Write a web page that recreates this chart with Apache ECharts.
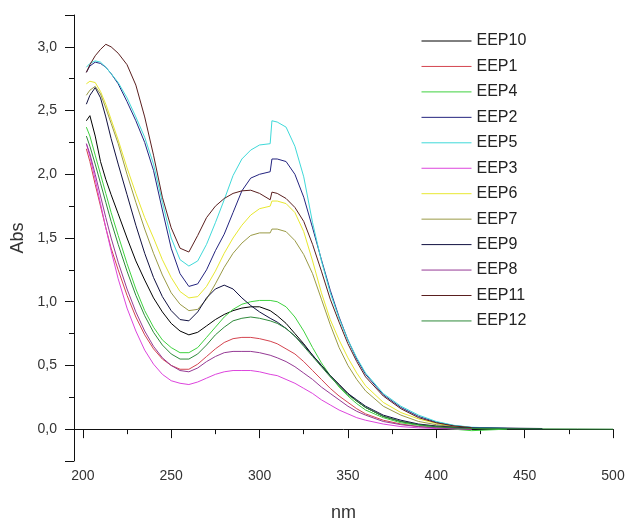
<!DOCTYPE html>
<html>
<head>
<meta charset="utf-8">
<title>Abs</title>
<script src="https://cdn.jsdelivr.net/npm/echarts@6/dist/echarts.min.js"></script>
<style>
  html, body { margin: 0; padding: 0; background: #fff; }
  #main { width: 628px; height: 527px; }
</style>
</head>
<body>
<div id="main"></div>
<script>
// wavelength (nm), shared by all samples
var nm = [202, 204, 207, 210, 213, 216, 220, 225, 230, 235, 240, 245, 250, 255, 260, 265, 270, 275, 280, 285,
          290, 295, 300, 306, 307, 310, 315, 320, 325, 330, 335, 340, 345, 350, 355, 360, 370, 380, 390, 400,
          410, 420, 440, 460, 480, 500];

// absorbance of each sample (null = no reading)
var eep10 = [2.42, 2.46, 2.30, 2.10, 1.96, 1.84, 1.69, 1.50, 1.32, 1.17, 1.03, 0.92, 0.83, 0.77, 0.74, 0.76, 0.81, 0.86, 0.90, 0.93,
             0.95, 0.96, 0.96, 0.93, 0.92, 0.89, 0.83, 0.75, 0.67, 0.58, 0.50, 0.42, 0.35, 0.28, 0.22, 0.17, 0.10, 0.06, 0.035, 0.02,
             0.01, 0.005, 0.003, null, null, null];
var eep1 = [2.20, 2.10, 1.92, 1.75, 1.58, 1.42, 1.25, 1.05, 0.88, 0.74, 0.63, 0.55, 0.50, 0.47, 0.47, 0.51, 0.57, 0.63, 0.68, 0.71,
            0.72, 0.72, 0.71, 0.69, 0.69, 0.67, 0.63, 0.59, 0.53, 0.46, 0.39, 0.32, 0.26, 0.21, 0.16, 0.12, 0.07, 0.04, 0.02, 0.01,
            0.005, 0.002, null, null, null, null];
var eep4 = [2.37, 2.30, 2.15, 2.00, 1.85, 1.70, 1.52, 1.30, 1.10, 0.93, 0.80, 0.70, 0.64, 0.60, 0.60, 0.64, 0.72, 0.80, 0.88, 0.94,
            0.98, 1.00, 1.01, 1.01, 1.01, 1.00, 0.96, 0.88, 0.77, 0.64, 0.52, 0.42, 0.33, 0.26, 0.20, 0.15, 0.09, 0.05, 0.03, 0.012,
            0.0, -0.012, 0.0, null, null, null];
var eep2 = [2.80, 2.85, 2.88, 2.87, 2.84, 2.79, 2.71, 2.57, 2.42, 2.25, 2.03, 1.72, 1.42, 1.22, 1.12, 1.14, 1.25, 1.40, 1.53, 1.70,
            1.87, 1.97, 2.00, 2.02, 2.12, 2.12, 2.10, 2.00, 1.82, 1.58, 1.33, 1.09, 0.88, 0.70, 0.55, 0.43, 0.27, 0.17, 0.10, 0.055,
            0.028, 0.013, 0.006, 0.003, null, null];
var eep5 = [2.84, 2.87, 2.89, 2.88, 2.84, 2.79, 2.72, 2.60, 2.45, 2.29, 2.08, 1.78, 1.50, 1.33, 1.28, 1.32, 1.45, 1.62, 1.80, 1.99,
            2.12, 2.19, 2.23, 2.24, 2.42, 2.41, 2.37, 2.22, 1.98, 1.62, 1.32, 1.07, 0.87, 0.70, 0.56, 0.44, 0.28, 0.18, 0.11, 0.06,
            0.03, 0.015, 0.006, null, null, null];
var eep3 = [2.24, 2.14, 1.96, 1.77, 1.58, 1.40, 1.18, 0.95, 0.77, 0.62, 0.51, 0.43, 0.38, 0.36, 0.35, 0.37, 0.40, 0.43, 0.45, 0.46,
            0.46, 0.46, 0.45, 0.43, 0.43, 0.42, 0.39, 0.36, 0.32, 0.28, 0.23, 0.19, 0.15, 0.12, 0.09, 0.07, 0.04, 0.02, 0.01, 0.005,
            0.002, 0.001, null, null, null, null];
var eep6 = [2.71, 2.73, 2.72, 2.65, 2.55, 2.43, 2.27, 2.05, 1.85, 1.66, 1.50, 1.33, 1.19, 1.08, 1.03, 1.04, 1.12, 1.24, 1.38, 1.50,
            1.60, 1.68, 1.73, 1.75, 1.79, 1.79, 1.77, 1.70, 1.55, 1.32, 1.07, 0.86, 0.70, 0.56, 0.44, 0.34, 0.21, 0.13, 0.08, 0.045,
            0.02, 0.01, null, null, null, null];
var eep7 = [2.62, 2.66, 2.69, 2.63, 2.52, 2.40, 2.24, 2.00, 1.78, 1.57, 1.38, 1.21, 1.07, 0.98, 0.93, 0.94, 1.02, 1.14, 1.27, 1.38,
            1.46, 1.52, 1.54, 1.54, 1.57, 1.57, 1.55, 1.48, 1.37, 1.22, 1.02, 0.82, 0.64, 0.50, 0.39, 0.30, 0.18, 0.11, 0.06, 0.035,
            0.018, 0.008, null, null, null, null];
var eep9 = [2.55, 2.62, 2.68, 2.60, 2.45, 2.28, 2.08, 1.84, 1.60, 1.38, 1.19, 1.04, 0.93, 0.86, 0.85, 0.92, 1.03, 1.10, 1.13, 1.10,
            1.03, 0.97, 0.92, 0.87, 0.86, 0.84, 0.79, 0.73, 0.66, 0.58, 0.50, 0.42, 0.35, 0.28, 0.23, 0.18, 0.11, 0.07, 0.04, 0.025,
            0.015, 0.01, 0.008, 0.005, null, null];
var eep8 = [2.24, 2.16, 2.00, 1.83, 1.66, 1.50, 1.31, 1.10, 0.92, 0.77, 0.65, 0.56, 0.50, 0.46, 0.45, 0.48, 0.53, 0.57, 0.60, 0.61,
            0.61, 0.61, 0.60, 0.58, 0.58, 0.56, 0.53, 0.49, 0.44, 0.39, 0.33, 0.28, 0.23, 0.18, 0.14, 0.11, 0.06, 0.035, 0.02, 0.01,
            0.005, 0.002, null, null, null, null];
var eep11 = [2.80, 2.86, 2.93, 2.98, 3.02, 3.00, 2.95, 2.86, 2.70, 2.45, 2.15, 1.82, 1.58, 1.42, 1.39, 1.52, 1.66, 1.75, 1.81, 1.85,
             1.87, 1.875, 1.85, 1.80, 1.86, 1.85, 1.81, 1.74, 1.63, 1.45, 1.24, 1.02, 0.84, 0.67, 0.53, 0.41, 0.26, 0.16, 0.09, 0.05,
             0.025, 0.012, null, null, null, null];
var eep12 = [2.30, 2.22, 2.08, 1.93, 1.78, 1.63, 1.45, 1.24, 1.05, 0.89, 0.76, 0.66, 0.59, 0.55, 0.55, 0.59, 0.66, 0.74, 0.80, 0.85,
             0.87, 0.88, 0.87, 0.85, 0.85, 0.83, 0.79, 0.73, 0.65, 0.57, 0.49, 0.41, 0.34, 0.27, 0.22, 0.17, 0.10, 0.06, 0.035, 0.02,
             0.01, 0.005, 0.003, 0.002, 0.001, 0.0];

// legend order as in the figure
var names = ['EEP10', 'EEP1', 'EEP4', 'EEP2', 'EEP5', 'EEP3', 'EEP6', 'EEP7', 'EEP9', 'EEP8', 'EEP11', 'EEP12'];
var values = [eep10, eep1, eep4, eep2, eep5, eep3, eep6, eep7, eep9, eep8, eep11, eep12];
var colors = ['#000000', '#d4444f', '#3fd23f', '#24247f', '#3fd9d9', '#dd44dd',
              '#e8e830', '#9a9a46', '#101040', '#953a95', '#5a1f1f', '#2e8a3a'];

var font = 'Liberation Sans, Arial, sans-serif';

var series = [];
for (var i = 0; i < names.length; i++) {
    var pts = [];
    for (var j = 0; j < nm.length; j++) {
        if (values[i][j] !== null) pts.push([nm[j], values[i][j]]);
    }
    series.push({
        name: names[i],
        type: 'line',
        data: pts,
        symbol: 'none',
        showSymbol: false,
        lineStyle: { width: 1, color: colors[i] },
        itemStyle: { color: colors[i] },
        z: 2
    });
}

var myChart = echarts.init(document.getElementById('main'));
var option = {
    animation: false,
    backgroundColor: '#fff',
    grid: { left: 74, right: 15, top: 15, bottom: 65 },
    legend: {
        orient: 'vertical',
        left: 421,
        top: 33,
        padding: 0,
        itemWidth: 50,
        itemHeight: 16,
        itemGap: 9.45,
        data: names,
        // line only, no marker in the key
        itemStyle: { opacity: 0 },
        lineStyle: { width: 1 },
        textStyle: { fontFamily: font, fontSize: 16, color: '#222', lineHeight: 16 }
    },
    xAxis: {
        type: 'value',
        min: 195,
        max: 500,
        splitNumber: 6,
        name: 'nm',
        nameLocation: 'middle',
        nameGap: 43,
        nameTextStyle: { fontFamily: font, fontSize: 18, color: '#333' },
        axisLine: { show: true, lineStyle: { color: '#111', width: 1 } },
        axisTick: { show: true, length: 9, lineStyle: { color: '#111' } },
        minorTick: { show: true, splitNumber: 2, length: 5, lineStyle: { color: '#111' } },
        splitLine: { show: false },
        axisLabel: {
            fontFamily: font, fontSize: 14, color: '#333', margin: 8,
            showMinLabel: false,
            formatter: function (v) { return v % 50 === 0 ? String(v) : ''; }
        }
    },
    yAxis: {
        type: 'value',
        min: -0.25,
        max: 3.25,
        splitNumber: 7,
        name: 'Abs',
        nameLocation: 'middle',
        nameGap: 45,
        nameTextStyle: { fontFamily: font, fontSize: 18, color: '#333' },
        axisLine: { show: true, lineStyle: { color: '#111', width: 1 } },
        axisTick: { show: true, length: 9, lineStyle: { color: '#111' } },
        minorTick: { show: true, splitNumber: 2, length: 5, lineStyle: { color: '#111' } },
        splitLine: { show: false },
        axisLabel: {
            fontFamily: font, fontSize: 14, color: '#333', margin: 17,
            showMinLabel: false, showMaxLabel: false,
            formatter: function (v) { return v.toFixed(1).replace('.', ','); }
        }
    },
    series: series
};
myChart.setOption(option);
</script>
</body>
</html>
